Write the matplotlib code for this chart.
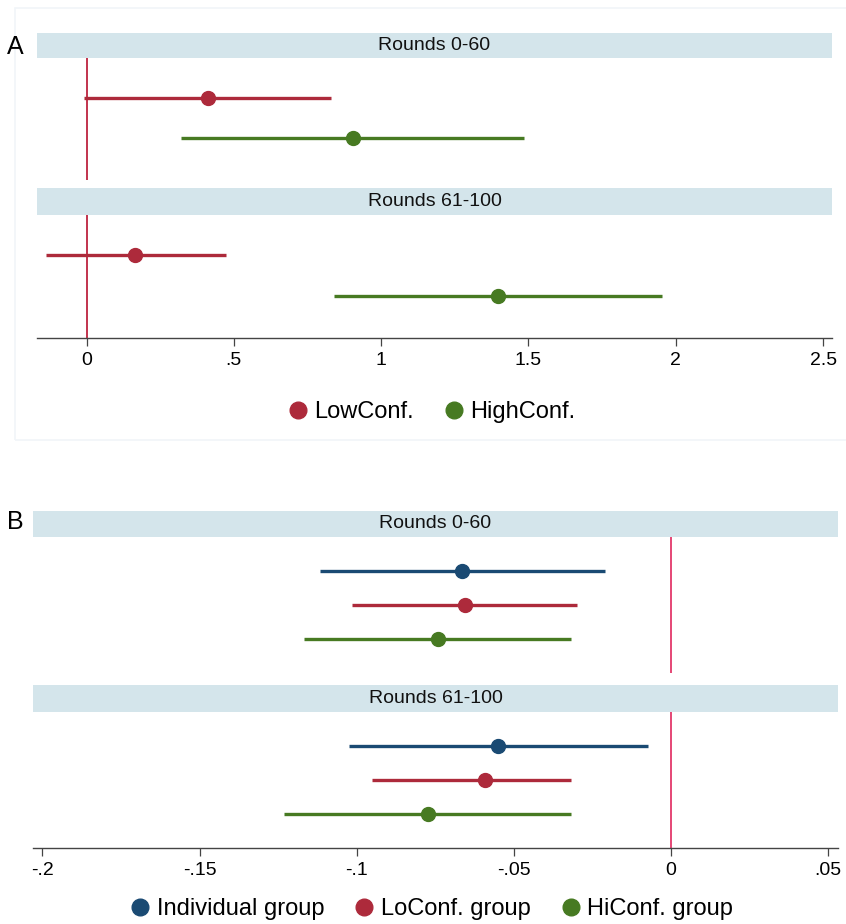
import matplotlib.pyplot as plt
from matplotlib.lines import Line2D
from matplotlib.patches import Rectangle

plt.rcParams['font.family'] = ['Liberation Sans', 'DejaVu Sans']

W, H = 846, 924

# panel A data: (point, lower, upper) per round window
a_panels = ['Rounds 0-60', 'Rounds 61-100']
a_labels = ['LowConf.', 'HighConf.']
a_est = [[0.412, 0.905], [0.165, 1.397]]
a_lo = [[-0.008, 0.321], [-0.137, 0.840]]
a_hi = [[0.830, 1.485], [0.474, 1.953]]
a_ticks = [0, 0.5, 1, 1.5, 2, 2.5]
a_ticklabels = ['0', '.5', '1', '1.5', '2', '2.5']

# panel B data
b_panels = ['Rounds 0-60', 'Rounds 61-100']
b_labels = ['Individual group', 'LoConf. group', 'HiConf. group']
b_est = [[-0.0665, -0.0655, -0.0741], [-0.0550, -0.0592, -0.0773]]
b_lo = [[-0.1116, -0.1015, -0.1167], [-0.1024, -0.0951, -0.1231]]
b_hi = [[-0.0210, -0.0300, -0.0318], [-0.0073, -0.0318, -0.0318]]
b_ticks = [-0.2, -0.15, -0.1, -0.05, 0, 0.05]
b_ticklabels = ['-.2', '-.15', '-.1', '-.05', '0', '.05']

blue = '#1a4a73'
red = '#ad2a3b'
green = '#477a22'
strip_col = '#d4e5eb'


def rect(x0, y0, x1, y1):
    return [x0 / W, 1 - y1 / H, (x1 - x0) / W, (y1 - y0) / H]


fig = plt.figure(figsize=(W / 100, H / 100), dpi=100)

# faint frame around panel A
fig.patches.append(Rectangle((15 / W, 1 - 440 / H), 840 / W, 432 / H, transform=fig.transFigure,
                             fill=False, edgecolor='#f1f5f8', linewidth=1.2))


def strip(x0, y0, x1, y1, text):
    s = fig.add_axes(rect(x0, y0, x1, y1))
    s.set_facecolor(strip_col)
    for sp in s.spines.values():
        sp.set_visible(False)
    s.set_xticks([])
    s.set_yticks([])
    s.text(0.5, 0.5, text, ha='center', va='center', fontsize=14, color='#111111',
           transform=s.transAxes)


def facet(x0, y0, x1, y1, est, lo, hi, colors, xlim, nrow, refcol, bottom, ticks, ticklabels):
    ax = fig.add_axes(rect(x0, y0, x1, y1))
    ax.axvline(0, color=refcol, linewidth=1.2, zorder=1)
    for i in range(len(est)):
        ax.plot([lo[i], hi[i]], [i + 1, i + 1], color=colors[i], linewidth=2.4, zorder=2,
                solid_capstyle='butt')
        ax.plot(est[i], i + 1, 'o', color=colors[i], markersize=10, zorder=3)
    ax.set_xlim(xlim)
    ax.set_ylim(nrow, 0)
    ax.set_yticks([])
    for sp in ['top', 'left', 'right']:
        ax.spines[sp].set_visible(False)
    if bottom:
        ax.spines['bottom'].set_color('#444444')
        ax.spines['bottom'].set_linewidth(1.0)
        ax.set_xticks(ticks)
        ax.set_xticklabels(ticklabels, fontsize=14)
        ax.tick_params(axis='x', length=6, width=0.9, color='#444444', pad=4)
    else:
        ax.spines['bottom'].set_visible(False)
        ax.set_xticks([])
    ax.patch.set_alpha(0)
    return ax


# panel A
a_xlim = (-0.168, 2.53)
a_rows = [(33, 58, 58, 180), (188, 215, 215, 338)]
for k in range(2):
    sy0, sy1, py0, py1 = a_rows[k]
    strip(37, sy0, 832, sy1, a_panels[k])
    facet(37, py0, 832, py1, a_est[k], a_lo[k], a_hi[k], [red, green], a_xlim, 3.05,
          '#b8102f', k == 1, a_ticks, a_ticklabels)

fig.text(7 / W, 1 - 47 / H, 'A', fontsize=18, va='center', ha='left')
a_handles = [Line2D([], [], marker='o', linestyle='', color=c, markersize=12) for c in [red, green]]
fig.legend(a_handles, a_labels, loc='center', bbox_to_anchor=(432 / W, 1 - 412 / H), ncol=2,
           frameon=False, fontsize=17, handlelength=0.8, handletextpad=0.3, columnspacing=1.3)

# panel B
b_xlim = (-0.203, 0.0531)
b_rows = [(511, 537, 537, 673), (685, 712, 712, 848)]
for k in range(2):
    sy0, sy1, py0, py1 = b_rows[k]
    strip(33, sy0, 838, sy1, b_panels[k])
    facet(33, py0, 838, py1, b_est[k], b_lo[k], b_hi[k], [blue, red, green], b_xlim, 4,
          '#e0285e', k == 1, b_ticks, b_ticklabels)

fig.text(7 / W, 1 - 522 / H, 'B', fontsize=18, va='center', ha='left')
b_handles = [Line2D([], [], marker='o', linestyle='', color=c, markersize=12) for c in [blue, red, green]]
fig.legend(b_handles, b_labels, loc='center', bbox_to_anchor=(432 / W, 1 - 909 / H), ncol=3,
           frameon=False, fontsize=17, handlelength=0.8, handletextpad=0.3, columnspacing=1.3)

fig.savefig('out.png', dpi=100)
